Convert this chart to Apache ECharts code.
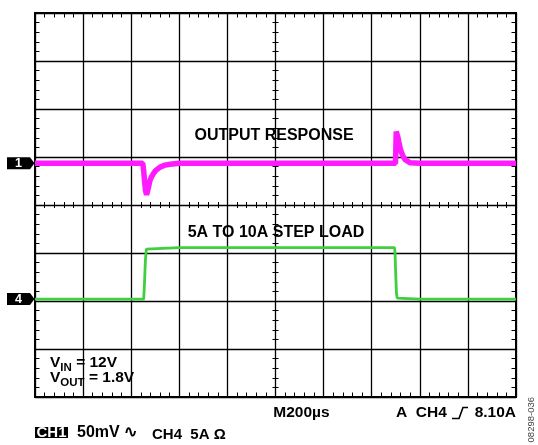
<!DOCTYPE html>
<html><head><meta charset="utf-8">
<script src="https://cdn.jsdelivr.net/npm/echarts@6/dist/echarts.min.js"></script>
<style>html,body{margin:0;padding:0;background:#fff}#c{width:538px;height:445px}</style>
</head><body><div id="c"></div>
<script>
// ---- Data (read from the oscilloscope capture) ----
// Time base: 200 µs/div, 10 divisions
const timeRange = [0, 2000];
const timeStep = 200;
// CH1: output voltage deviation, mV (AC coupled, 50 mV/div)
const ch1Time = [0, 200, 400, 448, 452, 456, 460, 464, 470, 478, 485, 492, 500, 507, 520, 540, 562, 600, 800, 1000, 1200, 1400, 1499, 1502, 1505, 1509, 1513, 1518, 1524, 1531, 1538, 1546, 1559, 1600, 1800, 2000];
const ch1MilliVolts = [0, 0, 0, 0, -8, -20, -29, -33, -27, -18, -14, -11, -8, -6, -4, -2, -1, 0, 0, 0, 0, 0, 0, 33, 31, 27, 22, 16, 11, 7, 4, 2.4, 0.5, 0, 0, 0];
// CH4: load current, A (5 A/div)
const ch4Time = [0, 200, 400, 452, 455, 459, 463, 467, 600, 800, 1000, 1200, 1400, 1495, 1497, 1500, 1503, 1506, 1510, 1600, 1800, 2000];
const ch4Amps = [5, 5, 5, 5, 6.5, 9.0, 10.2, 10.35, 10.35, 10.35, 10.35, 10.35, 10.35, 10.35, 9.8, 7.5, 5.6, 5.1, 5, 5, 5, 5];
// Channel settings
const ch1VoltsPerDiv = 50, ch1MarkerDiv = 0.87;
const ch4AmpsPerDiv = 5, ch4MarkerDiv = -1.96, ch4MarkerAmps = 5;

const FONT = '"Liberation Sans", Arial, sans-serif';
const ch1Data = ch1Time.map((t, i) => [t, ch1MarkerDiv + ch1MilliVolts[i] / ch1VoltsPerDiv]);
const ch4Data = ch4Time.map((t, i) => [t, ch4MarkerDiv + (ch4Amps[i] - ch4MarkerAmps) / ch4AmpsPerDiv]);

const chart = echarts.init(document.getElementById('c'), null, {renderer: 'canvas'});

function xAx(position, offset, inside, len, edge) {
  return {
    type: 'value', min: timeRange[0], max: timeRange[1], interval: timeStep,
    position: position, offset: offset, gridIndex: 0,
    axisLine: {show: false, onZero: false},
    axisTick: {show: false, inside: inside},
    axisLabel: {show: false},
    splitLine: {show: edge, lineStyle: {color: '#000', width: 1.3}},
    minorTick: {show: true, splitNumber: 5, length: len, lineStyle: {color: '#000', width: 1}},
    minorSplitLine: {show: false}
  };
}
function yAx(position, offset, inside, len, edge) {
  return {
    type: 'value', min: -4, max: 4, interval: 1,
    position: position, offset: offset, gridIndex: 0,
    axisLine: {show: false, onZero: false},
    axisTick: {show: false, inside: inside},
    axisLabel: {show: false},
    splitLine: {show: edge, lineStyle: {color: '#000', width: 1.3}},
    minorTick: {show: true, splitNumber: 5, length: len, lineStyle: {color: '#000', width: 1}},
    minorSplitLine: {show: false}
  };
}

chart.setOption({
  animation: false,
  backgroundColor: '#fff',
  grid: {left: 35, top: 13, width: 481, height: 384, show: true, borderColor: '#000', borderWidth: 2, backgroundColor: 'transparent', outerBoundsMode: 'none'},
  xAxis: [
    xAx('bottom', 0, true, 4.5, true),
    xAx('top', 0, true, 4.5, false),
    xAx('bottom', -192, true, 3, false),
    xAx('bottom', -192, false, 3, false)
  ],
  yAxis: [
    yAx('left', 0, true, 4.5, true),
    yAx('right', 0, true, 4.5, false),
    yAx('left', -240.5, true, 3, false),
    yAx('left', -240.5, false, 3, false)
  ],
  series: [
    {type: 'line', xAxisIndex: 0, yAxisIndex: 0, data: ch4Data, showSymbol: false, z: 3,
     lineStyle: {color: '#3fcf3f', width: 2.8}},
    {type: 'line', xAxisIndex: 0, yAxisIndex: 0, data: ch1Data, showSymbol: false, z: 4,
     lineStyle: {color: '#ff1aff', width: 5.5}}
  ]
});

const y1 = chart.convertToPixel({gridIndex: 0}, [0, ch1MarkerDiv])[1];
const y4 = chart.convertToPixel({gridIndex: 0}, [0, ch4MarkerDiv])[1];

function marker(y, label) {
  return [
    {type: 'polygon', shape: {points: [[7, y - 6], [30, y - 6], [34.5, y], [30, y + 6], [7, y + 6]]}, style: {fill: '#000'}, z: 10},
    {type: 'text', x: 18.5, y: y + 0.5, style: {text: label, fill: '#fff', font: 'bold 12.5px ' + FONT, align: 'center', verticalAlign: 'middle'}, z: 11}
  ];
}
const bold = (s) => 'bold ' + s + 'px ' + FONT;
const subRich = {v: {font: bold(15.5), fill: '#000', verticalAlign: 'bottom'}, s: {font: bold(11.5), fill: '#000', verticalAlign: 'bottom', padding: [0, 0, -3, 0]}};

chart.setOption({
  graphic: [
    ...marker(y1, '1'),
    ...marker(y4, '4'),
    {type: 'text', x: 274, y: 136, style: {text: 'OUTPUT RESPONSE', font: bold(16), fill: '#000', align: 'center', verticalAlign: 'middle'}, z: 10},
    {type: 'text', x: 276, y: 233, style: {text: '5A TO 10A STEP LOAD', font: bold(16), fill: '#000', align: 'center', verticalAlign: 'middle'}, z: 10},
    {type: 'text', x: 50, y: 363, style: {text: '{v|V}{s|IN}{v| = 12V}', align: 'left', verticalAlign: 'middle', rich: subRich}, z: 10},
    {type: 'text', x: 50, y: 377.5, style: {text: '{v|V}{s|OUT}{v| = 1.8V}', align: 'left', verticalAlign: 'middle', rich: subRich}, z: 10},
    {type: 'text', x: 301.5, y: 413, style: {text: 'M200µs', font: bold(15.5), fill: '#000', align: 'center', verticalAlign: 'middle'}, z: 10},
    {type: 'text', x: 396, y: 413, style: {text: 'A  CH4', font: bold(15.5), fill: '#000', align: 'left', verticalAlign: 'middle'}, z: 10},
    {type: 'polyline', shape: {points: [[452, 418.5], [459, 418.5], [463, 407.5], [468, 407.5]]}, style: {stroke: '#000', lineWidth: 1.6, fill: null}, z: 10},
    {type: 'text', x: 516, y: 413, style: {text: '8.10A', font: bold(15.5), fill: '#000', align: 'right', verticalAlign: 'middle'}, z: 10},
    {type: 'rect', shape: {x: 35, y: 427, width: 33, height: 11}, style: {fill: '#000'}, z: 10},
    {type: 'text', x: 51.5, y: 432.8, style: {text: 'CH1', font: bold(15), fill: '#fff', align: 'center', verticalAlign: 'middle'}, z: 11},
    {type: 'text', x: 77, y: 433, style: {text: '50mV ∿', font: bold(16), fill: '#000', align: 'left', verticalAlign: 'middle'}, z: 10},
    {type: 'text', x: 152, y: 434.5, style: {text: 'CH4  5A Ω', font: bold(15), fill: '#000', align: 'left', verticalAlign: 'middle'}, z: 10},
    {type: 'text', x: 531, y: 397, rotation: Math.PI / 2, style: {text: '08298-036', font: '9.5px ' + FONT, fill: '#444', align: 'right', verticalAlign: 'middle'}, z: 10}
  ]
});
</script></body></html>
